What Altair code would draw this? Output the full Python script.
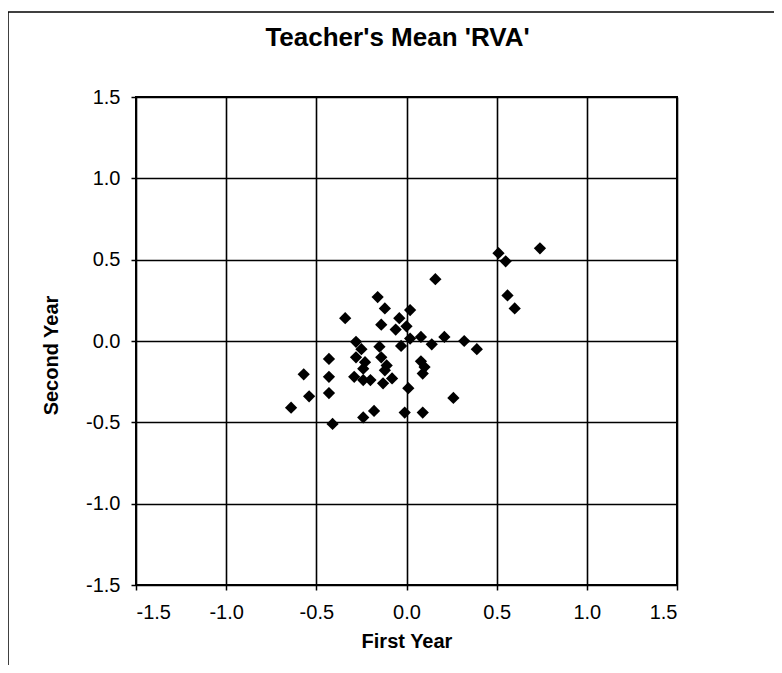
import altair as alt
import pandas as pd

FONT = "Liberation Sans"

first_year = [0.51, 0.55, 0.74, 0.16, 0.56, 0.60,
              -0.16, -0.12, 0.02, -0.34, -0.14, -0.04, -0.06, 0.00, 0.02, 0.08, 0.14, 0.21, 0.32, 0.39, -0.03,
              -0.28, -0.25, -0.15, -0.28, -0.23, -0.14, -0.11, -0.24, -0.29, -0.24, -0.20, -0.13, -0.08, -0.12, 0.01,
              0.08, 0.10, 0.09, -0.57, -0.43, -0.43, -0.54, -0.43, 0.26, -0.64, -0.18, -0.24, -0.01, 0.09, -0.41]
second_year = [0.54, 0.49, 0.57, 0.38, 0.28, 0.20,
               0.27, 0.20, 0.19, 0.14, 0.10, 0.14, 0.07, 0.09, 0.015, 0.025, -0.02, 0.025, 0.0, -0.05, -0.03,
               -0.005, -0.05, -0.035, -0.10, -0.13, -0.10, -0.15, -0.17, -0.22, -0.24, -0.24, -0.26, -0.23, -0.18, -0.29,
               -0.125, -0.16, -0.20, -0.205, -0.22, -0.11, -0.34, -0.32, -0.35, -0.41, -0.43, -0.47, -0.44, -0.44, -0.51]
ticks = [-1.5, -1.0, -0.5, 0.0, 0.5, 1.0, 1.5]
chart_title = "Teacher's Mean 'RVA'"

df = pd.DataFrame({"First Year": first_year, "Second Year": second_year})

label_expr = "datum.value < 0 ? '-' + format(-datum.value, '.1f') : format(datum.value, '.1f')"

axis_common = dict(
    values=ticks, labelExpr=label_expr, grid=True, gridColor="black", gridWidth=1.6, gridOpacity=1,
    domain=False, tickColor="black", tickSize=5, tickWidth=1.5,
    labelFont=FONT, labelFontSize=20, labelColor="black",
    titleFont=FONT, titleFontSize=20, titleFontWeight="bold", titleColor="black",
    titleBaseline="alphabetic",
)

points = alt.Chart(df).mark_point(
    shape="diamond", filled=True, color="black", size=150, opacity=1
).encode(
    x=alt.X("First Year:Q",
            scale=alt.Scale(domain=[-1.5, 1.5], nice=False, zero=False),
            axis=alt.Axis(title="First Year", labelPadding=12, titleY=62, **axis_common)),
    y=alt.Y("Second Year:Q",
            scale=alt.Scale(domain=[-1.5, 1.5], nice=False, zero=False),
            axis=alt.Axis(title="Second Year", labelPadding=11, titleX=-79, titleAngle=-90,
                          titleY=258, **axis_common)),
)

one = pd.DataFrame({"a": [0]})
left_border = alt.Chart(one).mark_rule(color="black", strokeWidth=1.5).encode(
    x=alt.value(-128), y=alt.value(-85), y2=alt.value(576))
top_border = alt.Chart(one).mark_rule(color="black", strokeWidth=1.5).encode(
    x=alt.value(-128), x2=alt.value(650), y=alt.value(-85))
title_text = alt.Chart(one).mark_text(
    font=FONT, fontSize=26, fontWeight="bold", color="black", align="center", baseline="alphabetic"
).encode(x=alt.value(261.5), y=alt.value(-51), text=alt.value(chart_title))

chart = alt.layer(points, left_border, top_border, title_text).properties(
    width=541, height=488,
    autosize=alt.AutoSizeParams(type="none"),
    padding={"left": 128, "top": 89, "right": 97, "bottom": 80},
    background="white",
).configure_view(stroke="black", strokeWidth=2)

chart.save("out.html", embed_options={"renderer": "svg", "actions": False})
